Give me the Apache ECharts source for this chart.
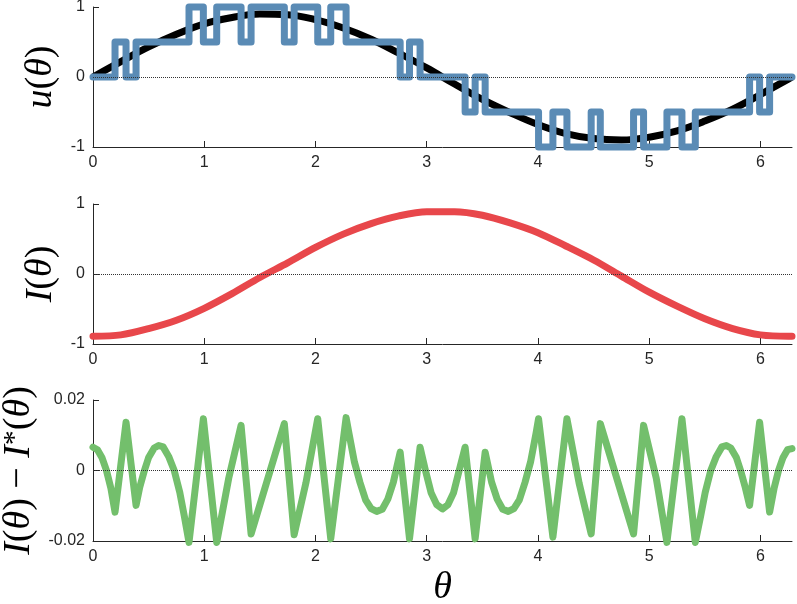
<!DOCTYPE html>
<html>
<head>
<meta charset="utf-8">
<script src="https://cdn.jsdelivr.net/npm/echarts@6/dist/echarts.min.js"></script>
<style>
    html, body { margin: 0; padding: 0; background: #fff; }
    #chart { width: 797px; height: 604px; }
</style>
</head>
<body>
<div id="chart"></div>
<script>
// sample points of the smooth reference curves (theta)
const thetaGrid = [0, 0.25, 0.5, 0.75, 1, 1.25, 1.5, 1.75, 2, 2.25, 2.5, 2.75, 3, 3.25, 3.5, 3.75, 4, 4.25, 4.5, 4.75, 5, 5.25, 5.5, 5.75, 6, 6.25, 6.2832];
// u*(theta), black curve in the top panel
const uTarget = [0, 0.22, 0.43, 0.61, 0.76, 0.85, 0.90, 0.89, 0.82, 0.70, 0.54, 0.34, 0.13, -0.10, -0.32, -0.51, -0.68, -0.81, -0.88, -0.90, -0.86, -0.77, -0.63, -0.46, -0.25, -0.03, 0];
// I*(theta), thin black curve in the middle panel
const iTarget = [-0.90, -0.87, -0.79, -0.66, -0.49, -0.28, -0.06, 0.16, 0.37, 0.57, 0.72, 0.83, 0.89, 0.89, 0.84, 0.74, 0.59, 0.40, 0.19, -0.03, -0.26, -0.46, -0.64, -0.78, -0.86, -0.90, -0.90];
// I(theta), red curve in the middle panel
const iOutput = [-0.89, -0.87, -0.78, -0.66, -0.49, -0.28, -0.05, 0.16, 0.38, 0.57, 0.72, 0.83, 0.89, 0.89, 0.84, 0.73, 0.59, 0.40, 0.20, -0.03, -0.26, -0.46, -0.64, -0.78, -0.87, -0.89, -0.89];

// u(theta): switching instants and the level held after each one
const uSwitch = [0, 0.198, 0.297, 0.387, 0.863, 0.992, 1.112, 1.331, 1.421, 1.72, 1.808, 2.02, 2.137, 2.275, 2.761, 2.845, 2.94, 3.345, 3.435, 3.525, 4.005, 4.134, 4.26, 4.478, 4.56, 4.859, 4.949, 5.159, 5.294, 5.414, 5.902, 5.992, 6.082, 6.2832];
const uLevel = [0, 0.5, 0, 0.5, 1, 0.5, 1, 0.5, 1, 0.5, 1, 0.5, 1, 0.5, 0, 0.5, 0, -0.5, 0, -0.5, -1, -0.5, -1, -0.5, -1, -0.5, -1, -0.5, -1, -0.5, 0, -0.5, 0, 0];

// I(theta) - I*(theta), green curve
const errTheta = [
    0, 0.04, 0.08, 0.12, 0.16, 0.198, 0.297, 0.387, 0.42, 0.46, 0.5, 0.55, 0.59, 0.63, 0.68, 0.73, 0.78, 0.82, 0.863,
    0.992, 1.112, 1.22, 1.331, 1.421, 1.72, 1.808, 1.914, 2.02, 2.137, 2.275, 2.3, 2.35, 2.4, 2.45, 2.5, 2.55, 2.6, 2.65, 2.7, 2.761,
    2.845, 2.94, 2.99, 3.04, 3.09, 3.1416, 3.19, 3.24, 3.29, 3.345, 3.435, 3.525, 3.583, 3.633, 3.683, 3.733, 3.783, 3.833, 3.883, 3.933, 3.983,
    4.005, 4.134, 4.26, 4.369, 4.478, 4.56, 4.859, 4.949, 5.063, 5.159, 5.294, 5.414, 5.463, 5.503, 5.553, 5.603, 5.653, 5.693, 5.733, 5.783, 5.823, 5.863, 5.902,
    5.992, 6.082, 6.123, 6.163, 6.203, 6.243, 6.2832
];
const errValue = [
    0.0066, 0.0059, 0.0037, 0.0001, -0.0049, -0.0118, 0.0137, -0.0099, -0.0048, -0.0002, 0.0037, 0.0064, 0.0071, 0.0067, 0.0040, 0.0000, -0.0062, -0.0128, -0.0204,
    0.0147, -0.0204, -0.0022, 0.0128, -0.018, 0.0133, -0.0182, -0.0035, 0.0147, -0.0194, 0.015, 0.0107, 0.0024, -0.0034, -0.0083, -0.0108, -0.0116, -0.0110, -0.0081, -0.0033, 0.0052,
    -0.0194, 0.0066, -0.0002, -0.0064, -0.0097, -0.0109, -0.0097, -0.0064, -0.0002, 0.0066, -0.0194, 0.0052, -0.0033, -0.0081, -0.0110, -0.0116, -0.0108, -0.0083, -0.0034, 0.0024, 0.0107,
    0.0147, -0.0189, 0.0147, -0.0035, -0.018, 0.0133, -0.018, 0.0128, -0.0022, -0.0204, 0.0147, -0.0204, -0.0128, -0.0062, 0.0000, 0.0040, 0.0067, 0.0071, 0.0064, 0.0037, -0.0002, -0.0048, -0.0099,
    0.0137, -0.0118, -0.0049, 0.0001, 0.0037, 0.0059, 0.0062
];

const xTicks = [0, 1, 2, 3, 4, 5, 6];

function pairs(xs, ys) {
    return xs.map((x, i) => [x, ys[i]]);
}

const axisColor = "#262626";
const labelFont = { fontFamily: "Liberation Sans", fontSize: 16, color: axisColor };
const nameRich = {
    it: { fontFamily: "Liberation Serif", fontStyle: "italic", fontSize: 38, color: "#000" },
    rm: { fontFamily: "Liberation Serif", fontSize: 38, color: "#000" },
    sup: { fontFamily: "Liberation Serif", fontSize: 30, color: "#000", verticalAlign: "top" },
};

function xAxis(gridIndex, name) {
    return {
        type: "value",
        gridIndex: gridIndex,
        min: 0,
        max: 6.2832,
        interval: 1,
        name: name || "",
        nameLocation: "middle",
        nameGap: 28,
        nameTextStyle: { rich: nameRich },
        axisLine: { show: true, onZero: false, lineStyle: { color: axisColor, width: 1 } },
        axisTick: { show: true, inside: true, length: 6, customValues: xTicks, lineStyle: { color: axisColor } },
        axisLabel: Object.assign({ margin: 8, customValues: xTicks }, labelFont),
        splitLine: { show: false },
    };
}

function yAxis(gridIndex, min, max, interval, name, gap) {
    return {
        type: "value",
        gridIndex: gridIndex,
        min: min,
        max: max,
        interval: interval,
        name: name,
        nameLocation: "middle",
        nameRotate: 90,
        nameGap: gap,
        nameTextStyle: { rich: nameRich },
        axisLine: { show: true, onZero: false, lineStyle: { color: axisColor, width: 1 } },
        axisTick: { show: true, inside: true, length: 6, lineStyle: { color: axisColor } },
        axisLabel: Object.assign({ margin: 8 }, labelFont),
        splitLine: { show: false },
    };
}

const zeroLine = {
    silent: true,
    symbol: "none",
    label: { show: false },
    lineStyle: { type: "dotted", color: "#333", width: 1 },
    data: [{ yAxis: 0 }],
};

const gridBase = { left: 93, right: 5, containLabel: false, outerBoundsMode: "none" };

const option = {
    animation: false,
    backgroundColor: "#fff",
    grid: [
        Object.assign({ top: 7, height: 140 }, gridBase),
        Object.assign({ top: 204, height: 140 }, gridBase),
        Object.assign({ top: 400, height: 141 }, gridBase),
    ],
    xAxis: [xAxis(0), xAxis(1), xAxis(2, "{it|θ}")],
    yAxis: [
        yAxis(0, -1, 1, 1, "{it|u}{rm|(}{it|θ}{rm|)}", 30),
        yAxis(1, -1, 1, 1, "{it|I}{rm|(}{it|θ}{rm|)}", 30),
        yAxis(2, -0.02, 0.02, 0.02, "{it|I}{rm|(}{it|θ}{rm|) − }{it|I}{sup|*}{rm|(}{it|θ}{rm|)}", 55),
    ],
    series: [
        {
            // u*(theta)
            type: "line",
            xAxisIndex: 0,
            yAxisIndex: 0,
            data: pairs(thetaGrid, uTarget),
            smooth: 0.4,
            showSymbol: false,
            clip: false,
            lineStyle: { color: "#000", width: 7 },
            markLine: zeroLine,
        },
        {
            // u(theta)
            type: "line",
            xAxisIndex: 0,
            yAxisIndex: 0,
            data: pairs(uSwitch, uLevel),
            step: "end",
            showSymbol: false,
            clip: false,
            lineStyle: { color: "#5a8bb5", width: 7, cap: "round", join: "round" },
        },
        {
            // I*(theta)
            type: "line",
            xAxisIndex: 1,
            yAxisIndex: 1,
            data: pairs(thetaGrid, iTarget),
            smooth: 0.4,
            showSymbol: false,
            clip: false,
            lineStyle: { color: "#000", width: 1.5 },
            markLine: zeroLine,
        },
        {
            // I(theta)
            type: "line",
            xAxisIndex: 1,
            yAxisIndex: 1,
            data: pairs(thetaGrid, iOutput),
            smooth: 0.3,
            showSymbol: false,
            clip: false,
            lineStyle: { color: "#e8474b", width: 7, cap: "round", join: "round" },
        },
        {
            // I(theta) - I*(theta)
            type: "line",
            xAxisIndex: 2,
            yAxisIndex: 2,
            data: pairs(errTheta, errValue),
            showSymbol: false,
            clip: false,
            lineStyle: { color: "#73bf6c", width: 7, cap: "round", join: "round" },
            markLine: zeroLine,
        },
    ],
};

const chartObj = echarts.init(document.getElementById("chart"));
chartObj.setOption(option);
</script>
</body>
</html>
